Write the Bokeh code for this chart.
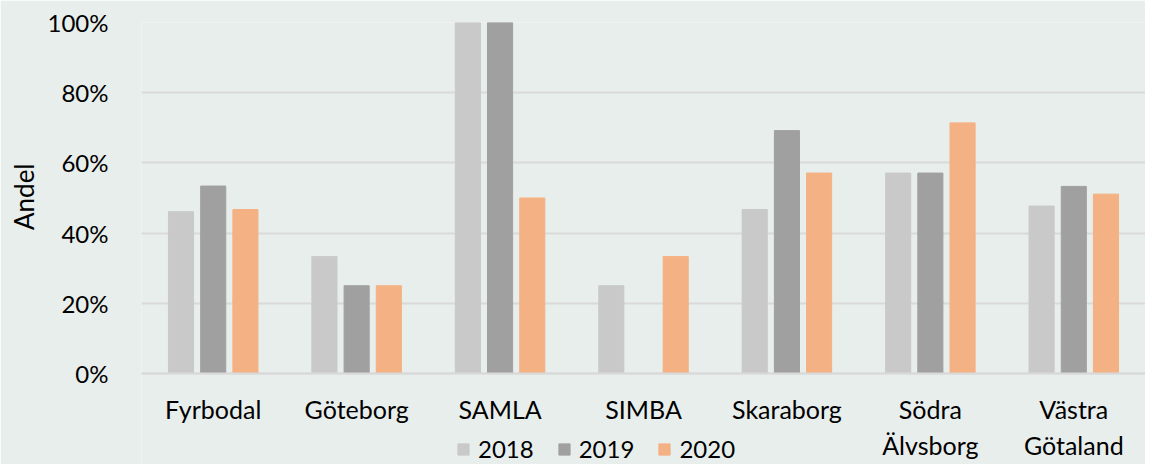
from bokeh.plotting import figure
from bokeh.models import ColumnDataSource, Legend, LegendItem, NumeralTickFormatter, FixedTicker, Title, Range1d
from bokeh.transform import dodge
from bokeh.embed import file_html
from bokeh.resources import INLINE

categories = ["Fyrbodal", "Göteborg", "SAMLA", "SIMBA", "Skaraborg", "Södra\nÄlvsborg", "Västra\nGötaland"]
years = ["2018", "2019", "2020"]
v2018 = [0.461, 0.333, 1.0, 0.25, 0.467, 0.571, 0.477]
v2019 = [0.534, 0.25, 1.0, 0.0, 0.692, 0.571, 0.533]
v2020 = [0.467, 0.25, 0.50, 0.333, 0.571, 0.714, 0.511]
colors = ["#C9C9C9", "#A0A0A0", "#F4B183"]
y_ticks = [0, 0.2, 0.4, 0.6, 0.8, 1.0]

FONT = "Lato"
FS = "24px"
BG = "#E8EEEC"

source = ColumnDataSource(data=dict(cat=categories, y2018=v2018, y2019=v2019, y2020=v2020))

# frame spans from the 100% line down to the bottom of the figure; room below 0 holds labels + legend
p = figure(x_range=categories, y_range=Range1d(-0.2593, 1.0), width=1145, height=464,
           output_backend="svg", toolbar_location=None,
           background_fill_color=BG, border_fill_color=BG,
           min_border_left=126, min_border_right=0, min_border_top=22, min_border_bottom=0)
p.outline_line_color = None

renderers = []
for off, col, c in zip([-0.2245, 0.0, 0.2245], ["y2018", "y2019", "y2020"], colors):
    r = p.vbar(x=dodge("cat", off, range=p.x_range), top=col, width=0.175, source=source,
               fill_color=c, line_color=c)
    renderers.append(r)

p.yaxis.ticker = FixedTicker(ticks=y_ticks)
p.yaxis.formatter = NumeralTickFormatter(format="0%")
p.yaxis.axis_line_color = None
p.yaxis.major_tick_line_color = None
p.yaxis.minor_tick_line_color = None
p.yaxis.major_label_text_font = FONT
p.yaxis.major_label_text_font_size = FS
p.yaxis.major_label_text_color = "#000000"
p.yaxis.major_label_standoff = 27

ytitle = Title(text="Andel", align="right", offset=141, text_font=FONT, text_font_size="26px",
               text_font_style="normal", text_color="#000000")
p.add_layout(ytitle, "left")

p.xaxis.fixed_location = 0
p.xaxis.axis_line_color = "#D9D9D9"
p.xaxis.axis_line_width = 2
p.xaxis.major_tick_line_color = None
p.xaxis.minor_tick_line_color = None
p.xaxis.major_label_text_font = FONT
p.xaxis.major_label_text_font_size = "25px"
p.xaxis.major_label_text_line_height = 1.2
p.xaxis.major_label_text_color = "#000000"
p.xaxis.major_label_standoff = 15

p.xgrid.grid_line_color = None
p.ygrid.grid_line_color = "#D9D9D9"
p.ygrid.grid_line_width = 2

legend = Legend(items=[LegendItem(label=y, renderers=[r]) for y, r in zip(years, renderers)],
                orientation="horizontal", location=(315, 1),
                background_fill_alpha=0, border_line_color=None,
                label_text_font=FONT, label_text_font_size=FS, label_text_color="#000000",
                glyph_width=14, glyph_height=14, label_standoff=8, spacing=23,
                padding=0, margin=0)
p.add_layout(legend, "center")

open("out.html", "w").write(file_html(p, INLINE))
